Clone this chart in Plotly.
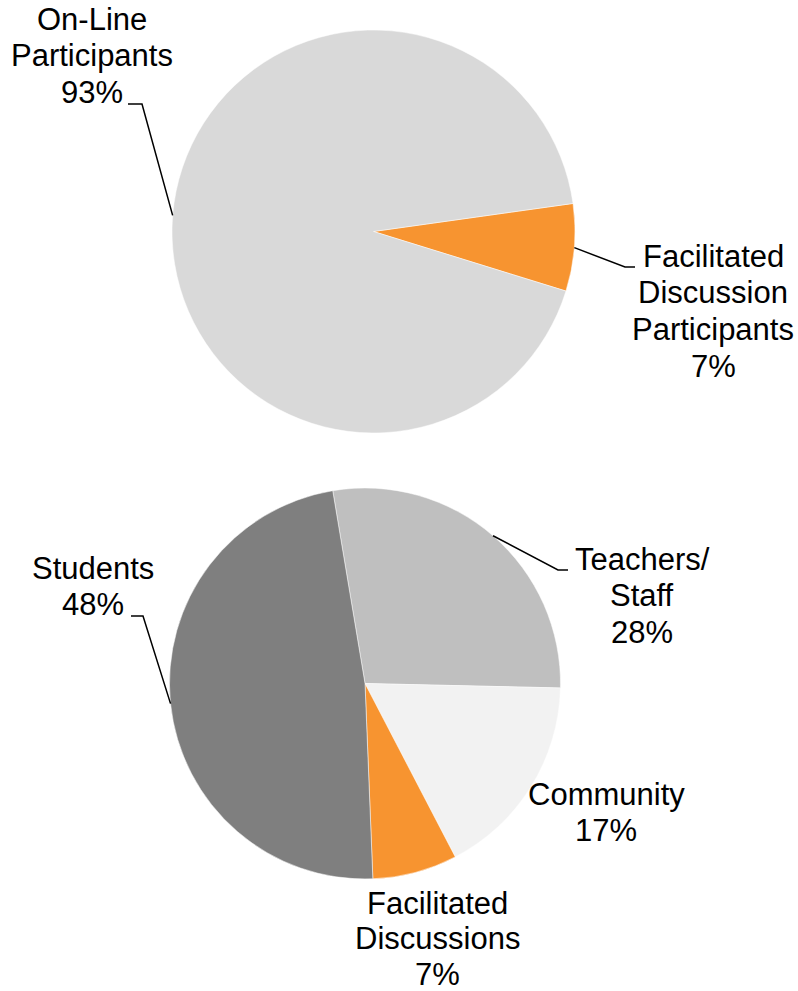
import math
import plotly.graph_objects as go

W, H = 798, 991

# ---- data ----
top_labels = ["Facilitated Discussion Participants", "On-Line Participants"]
top_values = [7, 93]
top_colors = ["#F79430", "#D9D9D9"]

bottom_labels = ["Teachers/Staff", "Community", "Facilitated Discussions", "Students"]
bottom_values = [28, 17, 7, 48]
bottom_colors = ["#BFBFBF", "#F2F2F2", "#F79430", "#7F7F7F"]

# label text split into lines
label_lines = {
    "On-Line Participants": ["On-Line", "Participants"],
    "Facilitated Discussion Participants": ["Facilitated", "Discussion", "Participants"],
    "Teachers/Staff": ["Teachers/", "Staff"],
    "Community": ["Community"],
    "Facilitated Discussions": ["Facilitated", "Discussions"],
    "Students": ["Students"],
}

# ---- layout (pixels) ----
top_domain = dict(x=[172 / W, 575 / W], y=[1 - 433 / H, 1 - 30 / H])
bottom_domain = dict(x=[169.5 / W, 560.5 / W], y=[1 - 879 / H, 1 - 488 / H])
top_rotation = 82
bottom_rotation = -9.5

# label block: (center x, first baseline y, line gap)
label_pos = {
    ("top", "On-Line Participants"): (92, 30, 36.7),
    ("top", "Facilitated Discussion Participants"): (713, 267, 36.7),
    ("bottom", "Teachers/Staff"): (642, 570, 36.7),
    ("bottom", "Community"): (606, 805, 36.7),
    ("bottom", "Facilitated Discussions"): (437, 914, 35.5),
    ("bottom", "Students"): (93, 579, 36.7),
}
# leader lines: elbow and end points (pixels)
leaders = {
    ("top", "On-Line Participants"): [(142, 104), (128, 104)],
    ("top", "Facilitated Discussion Participants"): [(625, 267), (635, 267)],
    ("bottom", "Teachers/Staff"): [(558, 570), (568, 570)],
    ("bottom", "Students"): [(143, 616), (131, 616)],
}

FONT = "Liberation Sans, Arial, sans-serif"
FS = 31


def px_to_paper(x, y):
    return x / W, 1 - y / H


def pie_geom(domain):
    x0, x1 = domain["x"]
    y0, y1 = domain["y"]
    aw = W * (x1 - x0)
    ah = H * (y1 - y0)
    r = min(aw, ah) / 2
    cx = W * (x0 + x1) / 2
    cy = H * (1 - y0) - ah / 2
    return cx, cy, r


def mid_point(values, idx, rotation, domain):
    cx, cy, r = pie_geom(domain)
    total = sum(values)
    start = sum(values[:idx])
    a = math.radians(rotation + 360 * (start + values[idx] / 2) / total)
    return cx + r * math.sin(a), cy - r * math.cos(a)


fig = go.Figure()
fig.add_trace(go.Pie(
    labels=top_labels, values=top_values, sort=False, direction="clockwise",
    rotation=top_rotation, domain=top_domain, textinfo="none", showlegend=False,
    marker=dict(colors=top_colors, line=dict(color="white", width=0.5)),
))
fig.add_trace(go.Pie(
    labels=bottom_labels, values=bottom_values, sort=False, direction="clockwise",
    rotation=bottom_rotation, domain=bottom_domain, textinfo="none", showlegend=False,
    marker=dict(colors=bottom_colors, line=dict(color="white", width=0.5)),
))

annotations = []
shapes = []
for key, labels, values, rot, dom in [
    ("top", top_labels, top_values, top_rotation, top_domain),
    ("bottom", bottom_labels, bottom_values, bottom_rotation, bottom_domain),
]:
    total = sum(values)
    for i, (lab, v) in enumerate(zip(labels, values)):
        lines = label_lines[lab] + [f"{round(100 * v / total)}%"]
        cx, base, gap = label_pos[(key, lab)]
        for j, t in enumerate(lines):
            bl = base + j * gap
            xp, yp = px_to_paper(cx, bl - 0.3465 * FS)
            annotations.append(dict(
                x=xp, y=yp, xref="paper", yref="paper", text=t, showarrow=False,
                xanchor="center", yanchor="middle",
                font=dict(family=FONT, size=FS, color="black"),
            ))
        if (key, lab) in leaders:
            sx, sy = mid_point(values, i, rot, dom)
            pts = [(sx, sy)] + leaders[(key, lab)]
            path = " ".join(
                ("M" if k == 0 else "L") + f"{px_to_paper(x, y)[0]:.5f},{px_to_paper(x, y)[1]:.5f}"
                for k, (x, y) in enumerate(pts)
            )
            shapes.append(dict(type="path", xref="paper", yref="paper", path=path,
                               line=dict(color="black", width=1.5)))

fig.update_layout(
    width=W, height=H, margin=dict(l=0, r=0, t=0, b=0),
    paper_bgcolor="white", plot_bgcolor="white",
    annotations=annotations, shapes=shapes,
)

fig.write_html("out.html")
